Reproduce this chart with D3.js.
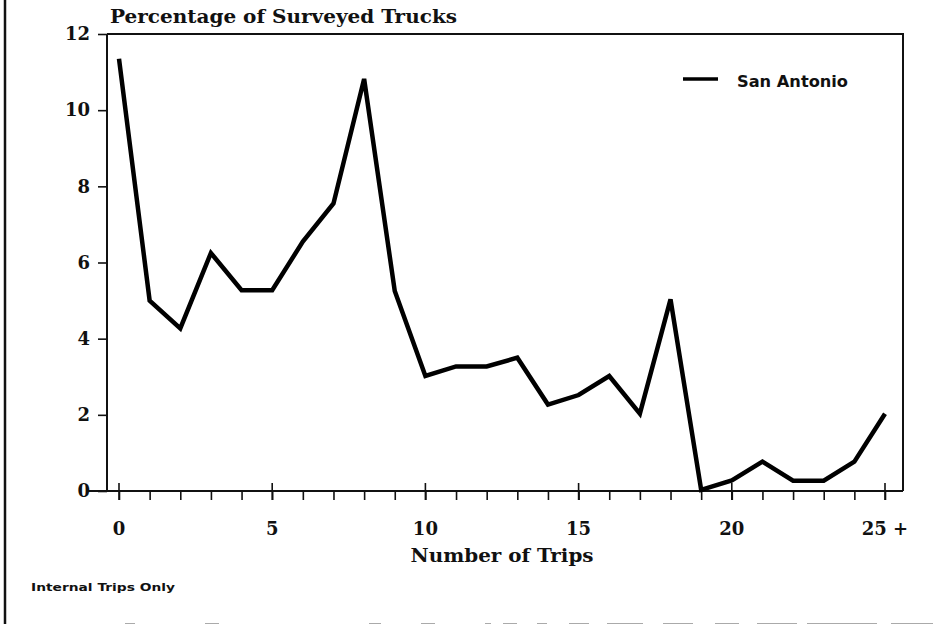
<!DOCTYPE html>
<html>
<head>
<meta charset="utf-8">
<script src="https://cdn.jsdelivr.net/npm/d3@7"></script>
<style>
  html, body { margin: 0; padding: 0; background: #fff; }
  svg { display: block; }
</style>
</head>
<body>
<svg id="chart" width="933" height="624"></svg>
<script>
// ---- data ----
const trips = [0, 1, 2, 3, 4, 5, 6, 7, 8, 9, 10, 11, 12, 13, 14, 15, 16, 17, 18, 19, 20, 21, 22, 23, 24, 25];
const sanAntonio = [11.35, 5.0, 4.27, 6.25, 5.27, 5.27, 6.55, 7.55, 10.82, 5.25, 3.02, 3.27, 3.27, 3.5, 2.27, 2.52, 3.02, 2.03, 5.03, 0.03, 0.28, 0.77, 0.27, 0.27, 0.77, 2.03];
const seriesName = "San Antonio";
const xMajorTicks = [0, 5, 10, 15, 20, 25];
const xTickLabels = ["0", "5", "10", "15", "20", "25 +"];
const yTicks = [0, 2, 4, 6, 8, 10, 12];
const titleText = "Percentage of Surveyed Trucks";
const xAxisTitle = "Number of Trips";
const footnote = "Internal Trips Only";

// ---- layout ----
const svg = d3.select("#chart");
const frame = { left: 107, right: 903, top: 34, bottom: 491 };
const x = d3.scaleLinear().domain([0, 25]).range([119, 885]);
const y = d3.scaleLinear().domain([0, 12]).range([frame.bottom, frame.top]);
const serif = "'DejaVu Serif', serif";
const sans = "'DejaVu Sans', sans-serif";

// page left border (scan edge)
svg.append("line").attr("x1", 5).attr("x2", 5).attr("y1", 0).attr("y2", 624)
  .attr("stroke", "#111").attr("stroke-width", 2.5);

// faint scan artifact at bottom
svg.append("line").attr("x1", 125).attr("x2", 933).attr("y1", 623.5).attr("y2", 623.5)
  .attr("stroke", "#aaa").attr("stroke-width", 1.2)
  .attr("stroke-dasharray", "10 70 14 150 12 40 14 50 6 12 14 20 10 22 20 18 36 20 30 22 24 18 40");

// frame (top and right)
svg.append("path")
  .attr("d", `M${frame.left},${frame.top}H${frame.right}V${frame.bottom}`)
  .attr("fill", "none").attr("stroke", "#111").attr("stroke-width", 2);

// y axis
const yAxis = d3.axisLeft(y).tickValues(yTicks).tickSize(9).tickPadding(8).tickFormat(d3.format("d"));
const gy = svg.append("g").attr("transform", `translate(${frame.left},0)`).call(yAxis);
gy.select(".domain").attr("stroke", "#111").attr("stroke-width", 2)
  .attr("d", `M0,${frame.top}V${frame.bottom}`);
gy.selectAll(".tick line").attr("stroke", "#111").attr("stroke-width", 1.6);
gy.selectAll(".tick text").attr("font-family", serif).attr("font-weight", "bold")
  .attr("font-size", 18).attr("fill", "#111");

// x axis (minor ticks at every trip count)
const xAxis = d3.axisBottom(x).tickValues(trips).tickSize(9).tickFormat("");
const gx = svg.append("g").attr("transform", `translate(0,${frame.bottom})`).call(xAxis);
gx.select(".domain").attr("stroke", "#111").attr("stroke-width", 2)
  .attr("d", `M${frame.left - 20},0H${frame.right}`);
gx.selectAll(".tick line").attr("stroke", "#111").attr("stroke-width", 1.6);
// major ticks cross the axis
gx.selectAll(".major").data(xMajorTicks).enter().append("line")
  .attr("x1", d => x(d)).attr("x2", d => x(d)).attr("y1", -8).attr("y2", 9)
  .attr("stroke", "#111").attr("stroke-width", 1.6);
// labels
svg.append("g").selectAll("text").data(xMajorTicks).enter().append("text")
  .attr("x", d => x(d)).attr("y", 535)
  .attr("text-anchor", "middle")
  .attr("font-family", serif).attr("font-weight", "bold").attr("font-size", 18).attr("fill", "#111")
  .text((d, i) => xTickLabels[i]);

// line series
const line = d3.line().x((d, i) => x(trips[i])).y(d => y(d));
svg.append("path").datum(sanAntonio)
  .attr("d", line)
  .attr("fill", "none").attr("stroke", "#000").attr("stroke-width", 4.5)
  .attr("stroke-linejoin", "miter").attr("stroke-miterlimit", 3);

// titles
svg.append("text").attr("x", 110).attr("y", 23)
  .attr("font-family", serif).attr("font-weight", "bold").attr("font-size", 18).attr("fill", "#111")
  .attr("textLength", 347).attr("lengthAdjust", "spacingAndGlyphs")
  .text(titleText);
svg.append("text").attr("x", 502).attr("y", 562).attr("text-anchor", "middle")
  .attr("font-family", serif).attr("font-weight", "bold").attr("font-size", 18).attr("fill", "#111")
  .attr("textLength", 183).attr("lengthAdjust", "spacingAndGlyphs")
  .text(xAxisTitle);

// legend
svg.append("line").attr("x1", 683).attr("x2", 718).attr("y1", 79).attr("y2", 79)
  .attr("stroke", "#000").attr("stroke-width", 3.5);
svg.append("text").attr("x", 737).attr("y", 87)
  .attr("font-family", sans).attr("font-weight", "bold").attr("font-size", 15).attr("fill", "#111")
  .attr("textLength", 111).attr("lengthAdjust", "spacingAndGlyphs")
  .text(seriesName);

// footnote
svg.append("text").attr("x", 31).attr("y", 591)
  .attr("font-family", sans).attr("font-weight", "bold").attr("font-size", 11).attr("fill", "#111")
  .attr("textLength", 144).attr("lengthAdjust", "spacingAndGlyphs")
  .text(footnote);
</script>
</body>
</html>
